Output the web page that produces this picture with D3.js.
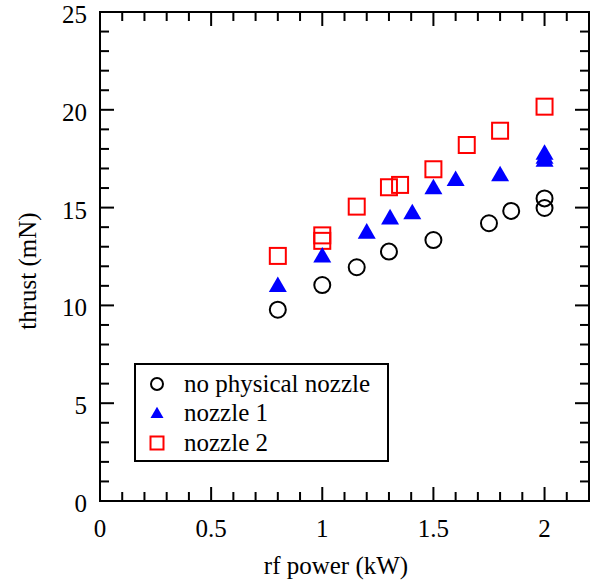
<!DOCTYPE html>
<html>
<head>
<meta charset="utf-8">
<script src="https://cdn.jsdelivr.net/npm/d3@7"></script>
<style>
  html, body { margin: 0; padding: 0; background: #fff; }
  svg { display: block; }
  text { font-family: "Liberation Serif", "DejaVu Serif", serif; fill: #000; }
</style>
</head>
<body>
<svg id="chart" width="594" height="580"></svg>
<script>
// Thrust vs rf power for three nozzle configurations
const noNozzlePower  = [0.80, 1.00, 1.155, 1.30, 1.50, 1.75, 1.85, 2.00, 2.00];
const noNozzleThrust = [9.78, 11.04, 11.95, 12.75, 13.34, 14.20, 14.83, 15.47, 14.98];

const nozzle1Power  = [0.80, 1.00, 1.20, 1.305, 1.405, 1.50, 1.60, 1.80, 2.00, 2.00, 2.00];
const nozzle1Thrust = [11.04, 12.55, 13.77, 14.50, 14.76, 16.04, 16.46, 16.70, 17.80, 17.60, 17.45];

const nozzle2Power  = [0.80, 1.00, 1.00, 1.155, 1.30, 1.35, 1.50, 1.65, 1.80, 2.00];
const nozzle2Thrust = [12.53, 13.58, 13.30, 15.05, 16.04, 16.16, 16.96, 18.20, 18.93, 20.16];

const seriesNames = ["no physical nozzle", "nozzle 1", "nozzle 2"];

const xTicks = [0, 0.5, 1, 1.5, 2];
const yTicks = [0, 5, 10, 15, 20, 25];

const W = 594, H = 580;
const margin = { left: 100, right: 5, top: 12, bottom: 79 };
const FONT = 25;

const svg = d3.select("#chart");
const x = d3.scaleLinear().domain([0, 2.2]).range([margin.left, W - margin.right]);
const y = d3.scaleLinear().domain([0, 25]).range([H - margin.bottom, margin.top]);

const x0 = x.range()[0], x1 = x.range()[1];
const y0 = y.range()[0], y1 = y.range()[1];

// minor tick positions (every 0.1 kW and every 1 mN)
const xMinor = d3.range(1, 22).map(i => i / 10).filter(v => !xTicks.some(t => Math.abs(t - v) < 1e-6));
const yMinor = d3.range(1, 25).filter(v => v % 5 !== 0);

// inward ticks mirrored on all four sides
const tickG = svg.append("g").attr("stroke", "#000").attr("stroke-width", 2);
const MAJ = 14, MIN = 9;
xTicks.filter(v => v > 0).forEach(v => {
  tickG.append("line").attr("x1", x(v)).attr("x2", x(v)).attr("y1", y0).attr("y2", y0 - MAJ);
  tickG.append("line").attr("x1", x(v)).attr("x2", x(v)).attr("y1", y1).attr("y2", y1 + MAJ);
});
xMinor.forEach(v => {
  tickG.append("line").attr("x1", x(v)).attr("x2", x(v)).attr("y1", y0).attr("y2", y0 - MIN);
  tickG.append("line").attr("x1", x(v)).attr("x2", x(v)).attr("y1", y1).attr("y2", y1 + MIN);
});
yTicks.filter(v => v > 0 && v < 25).forEach(v => {
  tickG.append("line").attr("y1", y(v)).attr("y2", y(v)).attr("x1", x0).attr("x2", x0 + MAJ);
  tickG.append("line").attr("y1", y(v)).attr("y2", y(v)).attr("x1", x1).attr("x2", x1 - MAJ);
});
yMinor.forEach(v => {
  tickG.append("line").attr("y1", y(v)).attr("y2", y(v)).attr("x1", x0).attr("x2", x0 + MIN);
  tickG.append("line").attr("y1", y(v)).attr("y2", y(v)).attr("x1", x1).attr("x2", x1 - MIN);
});

// frame
svg.append("rect")
  .attr("x", x0).attr("y", y1)
  .attr("width", x1 - x0).attr("height", y0 - y1)
  .attr("fill", "none").attr("stroke", "#000").attr("stroke-width", 2);

// tick labels
svg.append("g").selectAll("text").data(xTicks).join("text")
  .attr("x", d => x(d)).attr("y", y0 + 36)
  .attr("text-anchor", "middle").attr("font-size", FONT)
  .text(d => d3.format("~g")(d));
svg.append("g").selectAll("text").data(yTicks).join("text")
  .attr("x", x0 - 13).attr("y", d => y(d) + 11)
  .attr("text-anchor", "end").attr("font-size", FONT)
  .text(d => d);

// axis titles
svg.append("text")
  .attr("x", 336).attr("y", 574)
  .attr("text-anchor", "middle").attr("font-size", FONT)
  .text("rf power (kW)");
svg.append("text")
  .attr("transform", `translate(36, 271) rotate(-90)`)
  .attr("text-anchor", "middle").attr("font-size", FONT)
  .text("thrust (mN)");

// marker shapes
function drawCircle(g, cx, cy, r) {
  g.append("circle").attr("cx", cx).attr("cy", cy).attr("r", r)
    .attr("fill", "none").attr("stroke", "#000").attr("stroke-width", 2);
}
function drawTriangle(g, cx, cy, s) {
  const h = s * Math.sqrt(3) / 2;
  const pts = [[cx, cy - h * 0.55], [cx - s / 2, cy + h * 0.45], [cx + s / 2, cy + h * 0.45]];
  g.append("path").attr("d", "M" + pts.map(p => p.join(",")).join("L") + "Z")
    .attr("fill", "#0000ff");
}
function drawSquare(g, cx, cy, s) {
  g.append("rect").attr("x", cx - s / 2).attr("y", cy - s / 2)
    .attr("width", s).attr("height", s)
    .attr("fill", "none").attr("stroke", "#ff0000").attr("stroke-width", 2);
}

const marks = svg.append("g");
nozzle2Power.forEach((p, i) => drawSquare(marks, x(p), y(nozzle2Thrust[i]), 16));
nozzle1Power.forEach((p, i) => drawTriangle(marks, x(p), y(nozzle1Thrust[i]), 18));
noNozzlePower.forEach((p, i) => drawCircle(marks, x(p), y(noNozzleThrust[i]), 8));

// legend
const leg = svg.append("g");
leg.append("rect").attr("x", 135).attr("y", 364).attr("width", 253).attr("height", 97)
  .attr("fill", "#fff").attr("stroke", "#000").attr("stroke-width", 2);
const rowY = [384, 413, 443];
drawCircle(leg, 157, rowY[0], 6);
drawTriangle(leg, 157, rowY[1], 13);
drawSquare(leg, 157, rowY[2], 13);
seriesNames.forEach((n, i) => {
  leg.append("text").attr("x", 184).attr("y", rowY[i] + 8)
    .attr("font-size", FONT).text(n);
});
</script>
</body>
</html>
